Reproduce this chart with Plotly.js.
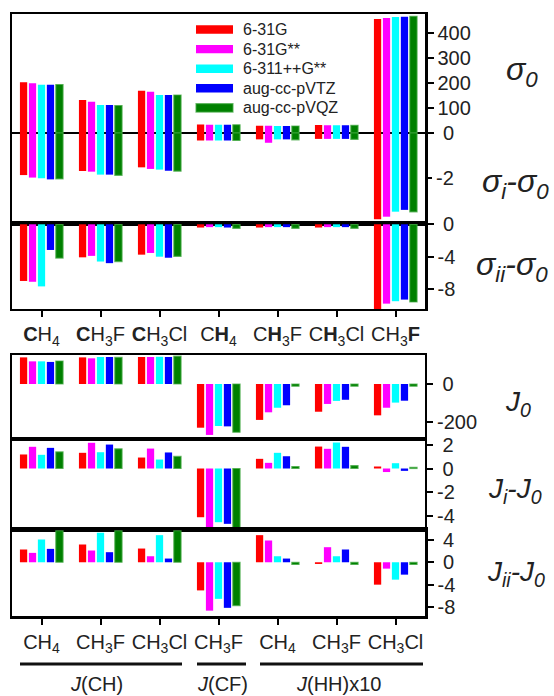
<!DOCTYPE html>
<html>
<head>
<meta charset="utf-8">
<script src="https://cdn.plot.ly/plotly-3.0.1.min.js"></script>
<style>html,body{margin:0;padding:0;background:#fff;}#chart{width:554px;height:696px;}</style>
</head>
<body>
<div id="chart"></div>
<script>
// ---------- DATA ----------
const basisSets = ['6-31G', '6-31G**', '6-311++G**', 'aug-cc-pVTZ', 'aug-cc-pVQZ'];

// shielding categories (nucleus : molecule)
const shieldCats = ['C:CH4', 'C:CH3F', 'C:CH3Cl', 'H:CH4', 'H:CH3F', 'H:CH3Cl', 'F:CH3F'];
const shieldTickText = ['<b>C</b>H<sub>4</sub>', '<b>C</b>H<sub>3</sub>F', '<b>C</b>H<sub>3</sub>Cl',
  'C<b>H</b><sub>4</sub>', 'C<b>H</b><sub>3</sub>F', 'C<b>H</b><sub>3</sub>Cl', 'CH<sub>3</sub><b>F</b>'];

// sigma_0 (rows = basis sets)
const sigma0 = [
  [203, 132, 169, 34, 29, 32, 456],
  [199, 125, 165, 33, 29, 31, 460],
  [193, 112, 152, 33, 28, 31, 464],
  [193, 112, 152, 33, 28, 31, 465],
  [194, 110, 152, 33, 28, 31, 467]
];
// sigma_i - sigma_0
const sigmaI = [
  [-1.85, -1.67, -1.51, -0.33, -0.28, -0.26, -3.79],
  [-1.96, -1.70, -1.58, -0.33, -0.43, -0.26, -3.68],
  [-1.99, -1.83, -1.61, -0.33, -0.28, -0.26, -3.46],
  [-2.04, -1.83, -1.66, -0.33, -0.28, -0.26, -3.38],
  [-2.02, -1.86, -1.68, -0.33, -0.30, -0.28, -3.47]
];
// sigma_ii - sigma_0
const sigmaII = [
  [-7.00, -4.08, -3.75, -0.40, -0.40, -0.40, -11.0],
  [-7.10, -3.90, -3.54, -0.35, -0.35, -0.35, -9.8],
  [-7.67, -4.60, -4.00, -0.35, -0.35, -0.35, -9.5],
  [-3.17, -4.80, -4.13, -0.40, -0.35, -0.35, -9.3],
  [-4.17, -4.60, -3.96, -0.50, -0.50, -0.50, -9.6]
];

// spin-spin coupling categories (coupling : molecule)
const jCats = ['CH:CH4', 'CH:CH3F', 'CH:CH3Cl', 'CF:CH3F', 'HH:CH4', 'HH:CH3F', 'HH:CH3Cl'];
const jTickText = ['CH<sub>4</sub>', 'CH<sub>3</sub>F', 'CH<sub>3</sub>Cl', 'CH<sub>3</sub>F',
  'CH<sub>4</sub>', 'CH<sub>3</sub>F', 'CH<sub>3</sub>Cl'];

// J_0
const J0 = [
  [140, 140, 142, -230, -189, -146, -165],
  [119, 135, 142, -268, -149, -105, -125],
  [119, 142, 143, -221, -125, -89, -98],
  [116, 142, 142, -223, -112, -83, -88],
  [121, 140, 146, -254, -12, -12, -12]
];
// J_i - J_0
const JI = [
  [1.19, 1.33, 0.93, -4.13, 0.82, 1.86, 0.17],
  [1.84, 2.18, 1.69, -4.97, 0.48, 1.67, -0.30],
  [1.16, 1.38, 0.76, -4.55, 1.33, 2.20, 0.45],
  [1.75, 2.03, 1.36, -4.69, 1.04, 1.84, -0.20],
  [1.41, 1.67, 1.02, -5.03, 0.17, 0.25, 0.10]
];
// J_ii - J_0
const JII = [
  [2.27, 3.16, 2.44, -5.0, 4.82, -0.30, -3.98],
  [1.67, 2.09, 1.07, -8.6, 3.87, 2.68, -1.13],
  [4.05, 5.25, 4.82, -6.5, 1.07, 1.07, -3.09],
  [2.38, 1.79, 0.66, -8.1, 0.66, 2.27, -2.20],
  [5.60, 5.60, 5.60, -7.7, -0.40, -0.40, -0.40]
];

// ---------- STYLE ----------
const basisColors = ['#ff0000', '#ff00ff', '#00ffff', '#0000ff', '#008000'];
const FONT = 'Liberation Sans, Arial, sans-serif';
const TXT = '#222';

function bars(cats, vals, xa, ya) {
  return basisSets.map((b, i) => ({
    type: 'bar', x: cats, y: vals[i], xaxis: xa, yaxis: ya, name: b,
    showlegend: false, hoverinfo: 'skip',
    marker: {color: basisColors[i],
      line: i === 4 ? {color: 'rgba(70,170,70,0.75)', width: 1.2} : {width: 0}}
  }));
}

const data = [].concat(
  bars(shieldCats, sigma0, 'x', 'y'),
  bars(shieldCats, sigmaI, 'x', 'y6'),
  bars(shieldCats, sigmaII, 'x2', 'y2'),
  bars(jCats, J0, 'x3', 'y3'),
  bars(jCats, JI, 'x4', 'y4'),
  bars(jCats, JII, 'x5', 'y5')
);

function xax(anchor, cats, labels, lw) {
  const a = {
    anchor: anchor, domain: [0, 1], type: 'category', categoryarray: cats, categoryorder: 'array',
    range: [-0.5, 6.5], showline: true, mirror: true, linecolor: '#000', linewidth: lw,
    showgrid: false, zeroline: false, fixedrange: true
  };
  if (labels) {
    Object.assign(a, {ticks: 'outside', ticklen: 6, tickwidth: 2, tickcolor: '#000',
      tickvals: cats, ticktext: labels, tickfont: {family: FONT, size: 20, color: TXT}});
  } else {
    Object.assign(a, {ticks: '', showticklabels: false});
  }
  return a;
}
function lab(v) { return (v >= 0 && v < 10) ? '\u2008' + v : String(v); }
function yax(anchor, domain, range, tv, lw, extra) {
  return Object.assign({
    anchor: anchor, domain: domain, range: range, side: 'right',
    tickvals: tv, ticktext: tv.map(lab), ticks: 'outside', ticklen: 6, tickwidth: 2, tickcolor: '#000',
    tickfont: {family: FONT, size: 20, color: TXT},
    showline: true, mirror: true, linecolor: '#000', linewidth: lw,
    showgrid: false, zeroline: false, fixedrange: true
  }, extra || {});
}

const px = v => (v - 12) / 413;
const py = v => (616 - v) / 602;

const greek = {family: FONT, size: 32, color: TXT};
const jfont = {family: FONT, size: 28, color: TXT};
let annotations = [
  {text: '<i>σ<sub>0</sub></i>', x: px(522), y: py(72), font: greek},
  {text: '<i>σ<sub>i</sub>-σ<sub>0</sub></i>', x: px(515), y: py(183), font: greek},
  {text: '<i>σ<sub>ii</sub>-σ<sub>0</sub></i>', x: px(512), y: py(266), font: greek},
  {text: '<i>J<sub>0</sub></i>', x: px(518), y: py(403), font: jfont},
  {text: '<i>J<sub>i</sub>-J<sub>0</sub></i>', x: px(515), y: py(490), font: jfont},
  {text: '<i>J<sub>ii</sub>-J<sub>0</sub></i>', x: px(516), y: py(573), font: jfont},
  {text: '<i>J</i>(CH)', x: px(96), y: py(684), font: {family: FONT, size: 20, color: TXT}},
  {text: '<i>J</i>(CF)', x: px(222), y: py(684), font: {family: FONT, size: 20, color: TXT}},
  {text: '<i>J</i>(HH)x10', x: px(338), y: py(684), font: {family: FONT, size: 20, color: TXT}}
].map(a => Object.assign({xref: 'paper', yref: 'paper', showarrow: false, xanchor: 'center', yanchor: 'middle'}, a));

let shapes = [[20, 182], [197, 246], [260, 423]].map(s => ({
  type: 'line', xref: 'paper', yref: 'paper', x0: px(s[0]), x1: px(s[1]), y0: py(664), y1: py(664),
  line: {color: '#111', width: 3}
}));

// legend (drawn by hand to match the wide swatches of the reference)
basisSets.forEach((b, i) => {
  const yc = 29.5 + i * 19.6;
  shapes.push({type: 'rect', xref: 'paper', yref: 'paper', x0: px(196), x1: px(233),
    y0: py(yc - 4.2), y1: py(yc + 4.2), fillcolor: basisColors[i],
    line: i === 4 ? {color: 'rgba(70,170,70,0.75)', width: 1.2} : {width: 0}});
  annotations.push({text: b, xref: 'paper', yref: 'paper', x: px(241), y: py(yc), xanchor: 'left',
    yanchor: 'middle', showarrow: false, font: {family: FONT, size: 16, color: TXT}});
});

const layout = {
  width: 554, height: 696,
  margin: {l: 12, r: 129, t: 14, b: 80},
  paper_bgcolor: '#fff', plot_bgcolor: 'rgba(0,0,0,0)',
  font: {family: FONT, color: TXT},
  barmode: 'group', bargap: 0.24, bargroupgap: 0.19,
  showlegend: false,
  xaxis: xax('y', shieldCats, null, 2.5),
  xaxis2: xax('y2', shieldCats, shieldTickText, 2.5),
  xaxis3: xax('y3', jCats, null, 2),
  xaxis4: xax('y4', jCats, null, 2),
  xaxis5: xax('y5', jCats, jTickText, 2.5),
  yaxis: yax('x', [0.6512, 1], [-364, 476], [0, 100, 200, 300, 400], 2.5,
    {zeroline: true, zerolinecolor: '#000', zerolinewidth: 1.5}),
  yaxis6: {overlaying: 'y', anchor: 'x', side: 'right', range: [-4.0, 5.231], tickvals: [-2], ticktext: ['-2'],
    ticks: 'outside', ticklen: 6, tickwidth: 2, tickcolor: '#000',
    tickfont: {family: FONT, size: 20, color: TXT}, showline: false, showgrid: false, zeroline: false, fixedrange: true},
  yaxis2: yax('x2', [0.51, 0.6512], [-10.46, 0.04], [0, -4, -8], 2.5),
  yaxis3: yax('x3', [0.294, 0.4336], [-289.5, 152.6], [0, -200], 2),
  yaxis4: yax('x4', [0.1429, 0.294], [-5.21, 2.5], [2, 0, -2, -4], 2),
  yaxis5: yax('x5', [0, 0.1429], [-9.55, 5.74], [4, 0, -4, -8], 2.5),
  annotations: annotations,
  shapes: shapes
};

Plotly.newPlot('chart', data, layout, {displayModeBar: false, staticPlot: true});
</script>
</body>
</html>
